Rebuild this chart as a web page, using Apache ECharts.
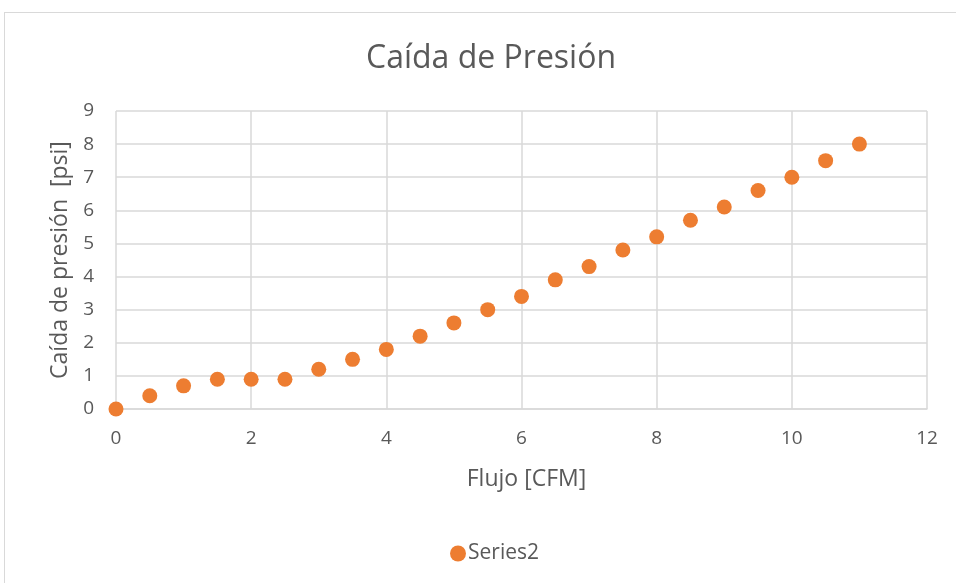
<!DOCTYPE html>
<html>
<head>
<meta charset="utf-8">
<script src="https://cdn.jsdelivr.net/npm/echarts@6/dist/echarts.min.js"></script>
<style>
html,body{margin:0;padding:0;background:#fff;}
#frame{position:absolute;left:4px;top:12px;width:960px;height:580px;border-left:1px solid #d9d9d9;border-top:1px solid #d9d9d9;box-sizing:border-box;}
#chart{position:absolute;left:0;top:0;width:956px;height:583px;}
</style>
</head>
<body>
<div id="frame"></div>
<div id="chart"></div>
<script>
// Flow (CFM) and pressure drop (psi) measurements
const flujo = [0, 0.5, 1, 1.5, 2, 2.5, 3, 3.5, 4, 4.5, 5, 5.5, 6, 6.5, 7, 7.5, 8, 8.5, 9, 9.5, 10, 10.5, 11];
const caida = [0, 0.4, 0.7, 0.9, 0.9, 0.9, 1.2, 1.5, 1.8, 2.2, 2.6, 3.0, 3.4, 3.9, 4.3, 4.8, 5.2, 5.7, 6.1, 6.6, 7.0, 7.5, 8.0];
const titulo = 'Caída de Presión';
const ejeX = 'Flujo [CFM]';
const ejeY = 'Caída de presión  [psi]';
const serie = 'Series2';

const font = 'Open Sans';
const chart = echarts.init(document.getElementById('chart'));
chart.setOption({
  backgroundColor: 'transparent',
  animation: false,
  title: {
    text: titulo, left: 361, top: 38,
    textStyle: { fontFamily: font, fontSize: 32, fontWeight: 'normal', color: '#595959' }
  },
  legend: {
    top: 538, left: 445, itemWidth: 16, itemHeight: 16, itemGap: 4,
    icon: 'circle',
    textStyle: { fontFamily: font, fontSize: 21, color: '#595959', padding: [0, 0, 0, -3] },
    data: [serie]
  },
  grid: { left: 116, right: 29, top: 111, bottom: 174 },
  xAxis: {
    type: 'value', min: 0, max: 12, interval: 2,
    name: ejeX, nameLocation: 'middle', nameGap: 59,
    nameTextStyle: { fontFamily: font, fontSize: 23, color: '#595959', padding: [0, 0, 0, 10] },
    axisLine: { show: true, lineStyle: { color: '#d9d9d9', width: 1.5 } },
    axisTick: { show: false },
    axisLabel: { fontFamily: font, fontSize: 19, color: '#595959', margin: 20 },
    splitLine: { show: true, lineStyle: { color: '#d9d9d9', width: 1.5 } }
  },
  yAxis: {
    type: 'value', min: 0, max: 9, interval: 1,
    name: ejeY, nameLocation: 'middle', nameGap: 44,
    nameTextStyle: { fontFamily: font, fontSize: 23, color: '#595959' },
    axisLine: { show: false },
    axisTick: { show: false },
    axisLabel: { fontFamily: font, fontSize: 19, color: '#595959', margin: 22 },
    splitLine: { show: true, lineStyle: { color: '#d9d9d9', width: 1.5 } }
  },
  series: [{
    name: serie, type: 'scatter', symbol: 'circle', symbolSize: 15,
    itemStyle: { color: '#ED7D31', opacity: 1 },
    data: flujo.map((x, i) => [x, caida[i]])
  }]
});
</script>
</body>
</html>
